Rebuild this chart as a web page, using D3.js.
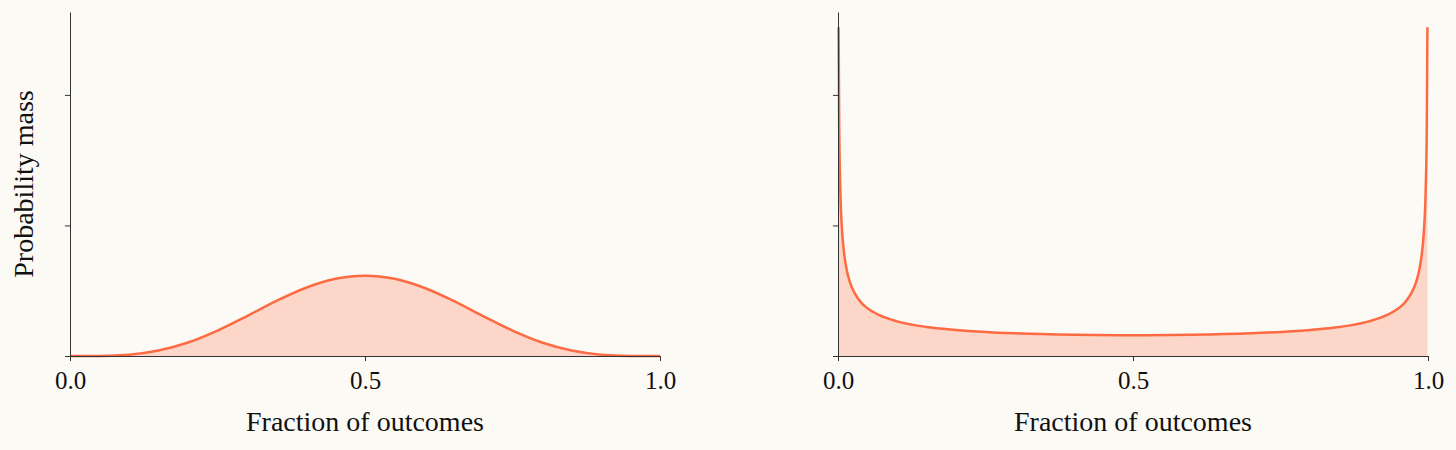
<!DOCTYPE html>
<html>
<head>
<meta charset="utf-8">
<title>Fraction of outcomes</title>
<style>
  body { margin: 0; background: #fcfaf5; }
  .axis path, .axis line { stroke: #333; stroke-width: 1px; }
  .axis text { font-family: "Liberation Serif", serif; font-size: 25px; fill: #111; }
  .title { font-family: "Liberation Serif", serif; font-size: 28px; fill: #111; text-anchor: middle; }
  .area { fill: #fbd6c9; }
  .line { fill: none; stroke: #fe6a42; stroke-width: 2.5px; }
</style>
</head>
<body>
<script src="https://cdn.jsdelivr.net/npm/d3@7"></script>
<script>
// tick values
var xTicks = [0, 0.5, 1];
var xTickLabels = ["0.0", "0.5", "1.0"];
var yTicks = [0, 4, 8];

// left panel: bell-shaped curve (density)
var leftX = [0, 0.05, 0.1, 0.15, 0.2, 0.25, 0.3, 0.35, 0.4, 0.45, 0.5,
             0.55, 0.6, 0.65, 0.7, 0.75, 0.8, 0.85, 0.9, 0.95, 1];
var leftY = [0, 0.003, 0.041, 0.167, 0.413, 0.779, 1.225, 1.688, 2.09, 2.364, 2.461,
             2.364, 2.09, 1.688, 1.225, 0.779, 0.413, 0.167, 0.041, 0.003, 0];

// right panel: U-shaped curve (density)
var rightX = [0.001, 0.002, 0.004, 0.007, 0.01, 0.015, 0.02, 0.03, 0.04, 0.05, 0.07,
              0.1, 0.15, 0.2, 0.3, 0.4, 0.5, 0.6, 0.7, 0.8, 0.85, 0.9,
              0.93, 0.95, 0.96, 0.97, 0.98, 0.985, 0.99, 0.993, 0.996, 0.998, 0.999];
var rightY = [10.07, 7.12, 5.04, 3.82, 3.2, 2.62, 2.27, 1.87, 1.62, 1.46, 1.25,
              1.06, 0.89, 0.8, 0.695, 0.65, 0.637, 0.65, 0.695, 0.8, 0.89, 1.06,
              1.25, 1.46, 1.62, 1.87, 2.27, 2.62, 3.2, 3.82, 5.04, 7.12, 10.07];

var width = 1456, height = 450;

var svg = d3.select("body").append("svg")
    .attr("width", width)
    .attr("height", height);

var y = d3.scaleLinear().domain([0, 10.54]).range([356, 12]);

function drawPanel(x0, x1, xs, ys, withYLabel) {
    var x = d3.scaleLinear().domain([0, 1]).range([x0, x1]);
    var pts = xs.map(function (d, i) { return [d, ys[i]]; });

    var area = d3.area()
        .x(function (d) { return x(d[0]); })
        .y0(y(0))
        .y1(function (d) { return y(d[1]); })
        .curve(d3.curveMonotoneX);

    var line = d3.line()
        .x(function (d) { return x(d[0]); })
        .y(function (d) { return y(d[1]); })
        .curve(d3.curveMonotoneX);

    svg.append("path").datum(pts).attr("class", "area").attr("d", area);
    svg.append("path").datum(pts).attr("class", "line").attr("d", line);

    svg.append("g")
        .attr("class", "axis")
        .attr("transform", "translate(0," + y(0) + ")")
        .call(d3.axisBottom(x).tickValues(xTicks)
            .tickFormat(function (d, i) { return xTickLabels[i]; })
            .tickSize(5).tickSizeOuter(0).tickPadding(10));

    svg.append("g")
        .attr("class", "axis")
        .attr("transform", "translate(" + x0 + ",0)")
        .call(d3.axisLeft(y).tickValues(yTicks).tickFormat("")
            .tickSize(5).tickSizeOuter(0));

    svg.selectAll(".axis .domain").attr("stroke", "#333");

    svg.append("text")
        .attr("class", "title")
        .attr("x", (x0 + x1) / 2)
        .attr("y", 431)
        .text("Fraction of outcomes");

    if (withYLabel) {
        svg.append("text")
            .attr("class", "title")
            .attr("transform", "translate(33," + (y.range()[0] + y.range()[1]) / 2 + ") rotate(-90)")
            .text("Probability mass");
    }
}

drawPanel(70, 660, leftX, leftY, true);
drawPanel(838, 1428, rightX, rightY, false);
</script>
</body>
</html>
